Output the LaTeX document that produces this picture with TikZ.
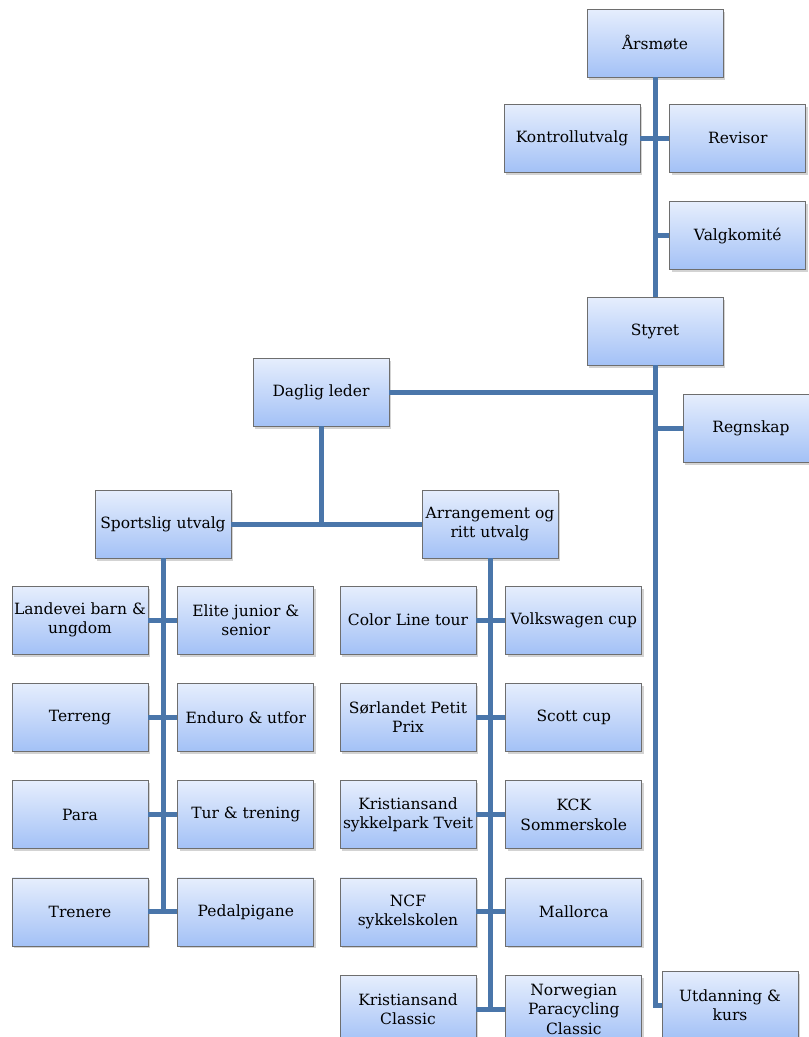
\documentclass[tikz,border=0pt]{standalone}
\usepackage{fontspec}
\setmainfont{DejaVu Serif}
\usepackage{xcolor}
\usetikzlibrary{positioning,shadows}

\definecolor{boxtop}{HTML}{E6EEFD}
\definecolor{boxbot}{HTML}{A3C1F6}
\definecolor{boxline}{HTML}{6E6E6E}
\definecolor{linkblue}{HTML}{4A76AA}

\tikzset{
  orgbox/.style = {draw = boxline, line width = 0.8pt,
    top color = boxtop, bottom color = boxbot,
    minimum width = 136pt, minimum height = 68pt, inner sep = 1pt,
    align = center, font = \fontsize{15.5}{19.5}\selectfont,
    drop shadow = {opacity = 0.35, shadow xshift = 2pt, shadow yshift = -2.5pt}},
  link/.style = {draw = linkblue, line width = 5pt},
}

\begin{document}
\begin{tikzpicture}[x = 1pt, y = -1pt]
  \useasboundingbox (0,0) rectangle (809,1037);

  % top of the tree
  \node[orgbox] (arsmote) at (655,43) {Årsmøte};
  \node[orgbox] (kontroll) at (572,138) {Kontrollutvalg};
  \node[orgbox, right=29pt of kontroll] (revisor) {Revisor};
  \node[orgbox, below=29pt of revisor] (valg) {Valgkomité};
  \node[orgbox] (styret) at (655,331) {Styret};
  \node[orgbox] (daglig) at (321,392) {Daglig leder};
  \node[orgbox] (regnskap) at (751,428) {Regnskap};
  \node[orgbox] (utdanning) at (730,1005) {Utdanning \&\\kurs};

  % utvalg
  \node[orgbox] (sport) at (163,524) {Sportslig utvalg};
  \node[orgbox] (arr) at (490,524) {Arrangement og\\ritt utvalg};

  % sportslig utvalg
  \node[orgbox] (landevei) at (80,620) {Landevei barn \&\\ungdom};
  \node[orgbox, right=29pt of landevei] (elite) {Elite junior \&\\senior};
  \node[orgbox, below=28.5pt of landevei] (terreng) {Terreng};
  \node[orgbox, right=29pt of terreng] (enduro) {Enduro \& utfor};
  \node[orgbox, below=28.5pt of terreng] (para) {Para};
  \node[orgbox, right=29pt of para] (tur) {Tur \& trening};
  \node[orgbox, below=28.5pt of para] (trenere) {Trenere};
  \node[orgbox, right=29pt of trenere] (pedal) {Pedalpigane};

  % arrangement og ritt
  \node[orgbox] (colorline) at (408,620) {Color Line tour};
  \node[orgbox, right=29pt of colorline] (vw) {Volkswagen cup};
  \node[orgbox, below=28.5pt of colorline] (sorlandet) {Sørlandet Petit\\Prix};
  \node[orgbox, right=29pt of sorlandet] (scott) {Scott cup};
  \node[orgbox, below=28.5pt of sorlandet] (tveit) {Kristiansand\\sykkelpark Tveit};
  \node[orgbox, right=29pt of tveit] (kck) {KCK\\Sommerskole};
  \node[orgbox, below=28.5pt of tveit] (ncf) {NCF\\sykkelskolen};
  \node[orgbox, right=29pt of ncf] (mallorca) {Mallorca};
  \node[orgbox, below=28.5pt of ncf] (kclassic) {Kristiansand\\Classic};
  \node[orgbox, right=29pt of kclassic] (npc) {Norwegian\\Paracycling\\Classic};

  % connectors
  \draw[link] (arsmote.south) -- (styret.north);
  \draw[link] (styret.south) |- (utdanning.west);
  \draw[link] (kontroll.east) -- (revisor.west);
  \draw[link] (valg.west) -- (valg.west -| arsmote.south);
  \draw[link] (daglig.east) -- (daglig.east -| styret.south);
  \draw[link] (regnskap.west) -- (regnskap.west -| styret.south);
  \draw[link] (daglig.south) -- (daglig.south |- sport.east);
  \draw[link] (sport.east) -- (arr.west);

  \draw[link] (sport.south) -- (sport.south |- trenere.east);
  \foreach \l/\r in {landevei/elite, terreng/enduro, para/tur, trenere/pedal}
    \draw[link] (\l.east) -- (\r.west);

  \draw[link] (arr.south) -- (arr.south |- kclassic.east);
  \foreach \l/\r in {colorline/vw, sorlandet/scott, tveit/kck, ncf/mallorca, kclassic/npc}
    \draw[link] (\l.east) -- (\r.west);
\end{tikzpicture}
\end{document}
